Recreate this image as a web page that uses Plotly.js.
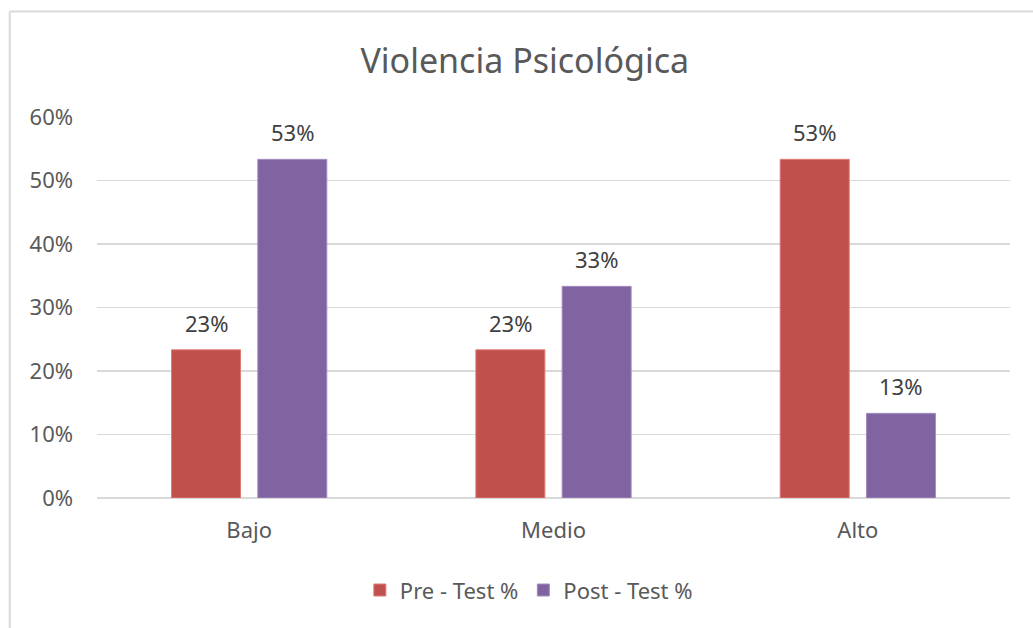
<!DOCTYPE html>
<html>
<head>
<meta charset="utf-8">
<script src="https://cdn.plot.ly/plotly-3.0.1.min.js"></script>
<style>html,body{margin:0;padding:0;background:#fff;}#chart{width:1033px;height:628px;}</style>
</head>
<body>
<div id="chart"></div>
<script>
const categories = ["Bajo", "Medio", "Alto"];
const seriesNames = ["Pre - Test %", "Post - Test %"];
const preTest = [0.2333, 0.2333, 0.5333];
const postTest = [0.5333, 0.3333, 0.1333];
const yTickVals = [0, 0.1, 0.2, 0.3, 0.4, 0.5, 0.6];
const yTickText = ["0%", "10%", "20%", "30%", "40%", "50%", "60%"];

const fontFam = "Noto Sans, Open Sans, sans-serif";
const W = 1033, H = 628;
const margin = {l: 97, r: 23, t: 117, b: 130};
const bargap = 0.433, bargroupgap = 0.2;
const colors = ["#C0504D", "#8064A2"];
const edge = ["#E07A77", "#A58CC4"];
const seriesVals = [preTest, postTest];

const traces = seriesVals.map((vals, i) => ({
  type: "bar", name: seriesNames[i], x: categories, y: vals,
  marker: {color: colors[i], line: {color: edge[i], width: 1}},
  hoverinfo: "none"
}));

// data labels placed above each bar, derived from the same arrays
const plotW = W - margin.l - margin.r;
const slotPx = (plotW / categories.length) * (1 - bargap) / seriesVals.length;
const annotations = [];
seriesVals.forEach((vals, i) => {
  vals.forEach((v, j) => {
    annotations.push({
      x: categories[j], y: v, xref: "x", yref: "y",
      text: Math.round(v * 100) + "%", showarrow: false,
      xanchor: "center", yanchor: "middle",
      xshift: (i - (seriesVals.length - 1) / 2) * slotPx, yshift: 27,
      font: {family: fontFam, size: 22, color: "#404040"}
    });
  });
});

const layout = {
  width: W, height: H,
  margin: margin,
  paper_bgcolor: "#ffffff", plot_bgcolor: "#ffffff",
  font: {family: fontFam, color: "#595959", size: 22},
  title: {text: "Violencia Psicológica", x: 0.508, xanchor: "center", y: 0.902, yanchor: "middle",
          font: {family: fontFam, size: 34, color: "#595959"}},
  barmode: "group", bargap: bargap, bargroupgap: bargroupgap,
  showlegend: true,
  legend: {orientation: "h", x: 0.473, xanchor: "center", y: -0.242, yanchor: "middle",
           font: {family: fontFam, size: 22, color: "#595959"}, traceorder: "normal"},
  xaxis: {tickfont: {family: fontFam, size: 22, color: "#595959"}, showline: false, ticks: "", showgrid: false,
          ticklabelstandoff: 17},
  yaxis: {range: [0, 0.6], tickvals: yTickVals, ticktext: yTickText, showgrid: true,
          gridcolor: "#D9D9D9", gridwidth: 1.5, zeroline: true, zerolinecolor: "#D9D9D9", zerolinewidth: 1.5,
          tickfont: {family: fontFam, size: 22, color: "#595959"}, ticks: "", ticklabelstandoff: 23},
  annotations: annotations,
  shapes: [
    {type: "line", xref: "paper", yref: "paper", x0: -0.0956, x1: 1.1, y0: 1.277, y1: 1.277,
     line: {color: "#D9D9D9", width: 2}},
    {type: "line", xref: "paper", yref: "paper", x0: -0.0956, x1: -0.0956, y0: 1.277, y1: -0.5,
     line: {color: "#D9D9D9", width: 2}}
  ]
};
Plotly.newPlot("chart", traces, layout, {displayModeBar: false, staticPlot: true});
</script>
</body>
</html>
